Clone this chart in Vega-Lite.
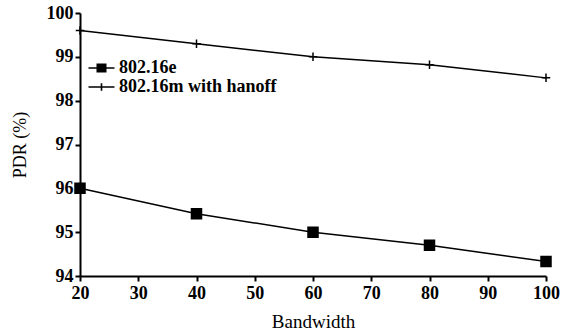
{
  "$schema": "https://vega.github.io/schema/vega-lite/v6.json",
  "width": 466,
  "height": 263,
  "autosize": "none",
  "padding": {"left": 80, "top": 13, "right": 19, "bottom": 60},
  "background": "white",
  "config": {
    "view": {"stroke": null},
    "font": "Liberation Serif",
    "axis": {
      "grid": false,
      "domainColor": "black",
      "domainWidth": 2,
      "tickColor": "black",
      "tickWidth": 2,
      "tickSize": 5,
      "labelFlush": false,
      "labelColor": "black",
      "labelFont": "Liberation Serif",
      "labelFontSize": 18,
      "labelFontWeight": "bold",
      "titleColor": "black",
      "titleFont": "Liberation Serif",
      "titleFontSize": 18,
      "titleFontWeight": "normal"
    }
  },
  "data": {
    "values": [
      {"bw": 20, "pdr": 96.0, "series": "802.16e"},
      {"bw": 40, "pdr": 95.42, "series": "802.16e"},
      {"bw": 60, "pdr": 95.0, "series": "802.16e"},
      {"bw": 80, "pdr": 94.7, "series": "802.16e"},
      {"bw": 100, "pdr": 94.33, "series": "802.16e"},
      {"bw": 20, "pdr": 99.6, "series": "802.16m with hanoff"},
      {"bw": 40, "pdr": 99.3, "series": "802.16m with hanoff"},
      {"bw": 60, "pdr": 99.0, "series": "802.16m with hanoff"},
      {"bw": 80, "pdr": 98.82, "series": "802.16m with hanoff"},
      {"bw": 100, "pdr": 98.52, "series": "802.16m with hanoff"}
    ]
  },
  "encoding": {
    "x": {
      "field": "bw", "type": "quantitative",
      "scale": {"domain": [20, 100], "nice": false, "zero": false},
      "axis": {"values": [20, 30, 40, 50, 60, 70, 80, 90, 100], "title": "Bandwidth", "titlePadding": 10, "labelPadding": 3, "titleFontSize": 19}
    },
    "y": {
      "field": "pdr", "type": "quantitative",
      "scale": {"domain": [94, 100], "nice": false, "zero": false},
      "axis": {"values": [94, 95, 96, 97, 98, 99, 100], "title": "PDR (%)", "titlePadding": 17, "labelPadding": 2}
    }
  },
  "layer": [
    {
      "mark": {"type": "line", "color": "black", "strokeWidth": 1.5},
      "encoding": {"detail": {"field": "series"}}
    },
    {
      "mark": {"type": "point", "fill": "black", "stroke": "black", "strokeWidth": 1.5, "opacity": 1, "size": 100},
      "encoding": {
        "shape": {
          "field": "series", "type": "nominal",
          "scale": {"domain": ["802.16e", "802.16m with hanoff"], "range": ["M-1,-1H1V1H-1Z", "M-0.85,0H0.85M0,-0.85V0.85"]},
          "legend": null
        }
      }
    },
    {
      "mark": {"type": "point", "fill": "black", "stroke": "black", "strokeWidth": 0, "opacity": 1, "size": 0},
      "encoding": {
        "shape": {
          "field": "series", "type": "nominal",
          "scale": {"domain": ["802.16e", "802.16m with hanoff"], "range": ["M-1.3,-0.08H1.3V0.08H-1.3Z M-0.5,-0.45H0.5V0.45H-0.5Z", "M-1.3,-0.08H1.3V0.08H-1.3Z M-0.08,-0.38H0.08V0.38H-0.08Z"]},
          "legend": {
            "title": null,
            "orient": "none",
            "legendX": 11.5,
            "legendY": 45,
            "padding": 0,
            "symbolSize": 400,
            "symbolStrokeWidth": 0,
            "symbolFillColor": "black",
            "rowPadding": 0,
            "labelFont": "Liberation Serif",
            "labelFontSize": 18,
            "labelFontWeight": "bold",
            "labelColor": "black",
            "labelOffset": 7.5,
            "labelLimit": 300
          }
        }
      }
    }
  ],
  "resolve": {"scale": {"shape": "independent"}, "legend": {"shape": "independent"}}
}
